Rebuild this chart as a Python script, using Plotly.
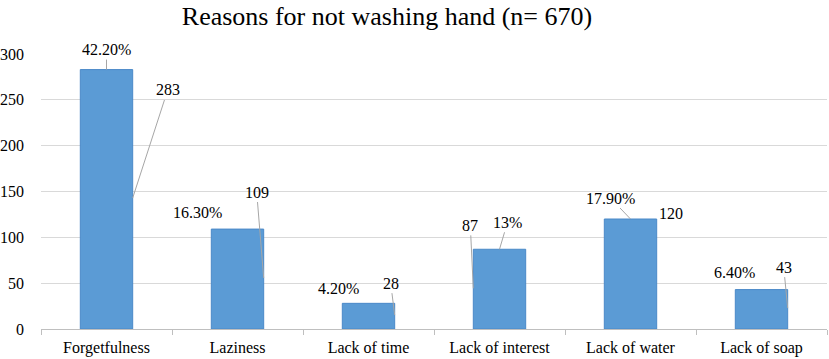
import plotly.graph_objects as go

categories = ["Forgetfulness", "Laziness", "Lack of time", "Lack of interest", "Lack of water", "Lack of soap"]
counts = [283, 109, 28, 87, 120, 43]
percent_labels = ["42.20%", "16.30%", "4.20%", "13%", "17.90%", "6.40%"]
y_ticks = [0, 50, 100, 150, 200, 250, 300]

FONT = "Liberation Serif"
LEADER = "#A6A6A6"

fig = go.Figure()
fig.add_trace(go.Bar(
    x=categories, y=counts,
    marker=dict(color="#5B9BD5", line=dict(color="#4A89C8", width=1)),
    width=0.4,
))

pct_place = [
    dict(dx=0.0, yv=lambda v: v, arrow=True, ax=0, ay=-20),
    dict(dx=0.0, yv=lambda v: v, arrow=False, xs=-40, ys=17),
    dict(dx=0.0, yv=lambda v: v, arrow=False, xs=-30, ys=15),
    dict(dx=0.0, yv=lambda v: v, arrow=True, ax=8, ay=-27),
    dict(dx=0.0, yv=lambda v: v, arrow=True, ax=-20, ay=-21),
    dict(dx=0.0, yv=lambda v: v, arrow=False, xs=-27, ys=17),
]
val_place = [
    dict(dx=0.2, yv=lambda v: v * 0.505, arrow=True, ax=35, ay=-108),
    dict(dx=0.2, yv=lambda v: v * 0.51, arrow=True, ax=-7, ay=-86),
    dict(dx=0.2, yv=lambda v: v * 0.54, arrow=True, ax=-4, ay=-32),
    dict(dx=-0.2, yv=lambda v: v * 0.51, arrow=True, ax=-3, ay=-63),
    dict(dx=0.0, yv=lambda v: v, arrow=False, xs=40, ys=6),
    dict(dx=0.2, yv=lambda v: v * 0.53, arrow=True, ax=-4, ay=-41),
]

annotations = []
for i, (v, p) in enumerate(zip(counts, percent_labels)):
    for text, pl in ((p, pct_place[i]), (str(v), val_place[i])):
        a = dict(x=i + pl["dx"], y=pl["yv"](v), xref="x", yref="y", text=text,
                 font=dict(family=FONT, size=16, color="black"))
        if pl["arrow"]:
            a.update(showarrow=True, arrowhead=0, arrowwidth=1, arrowcolor=LEADER,
                     ax=pl["ax"], ay=pl["ay"], standoff=0)
        else:
            a.update(showarrow=False, xshift=pl["xs"], yshift=pl["ys"])
        annotations.append(a)

fig.update_layout(
    width=829, height=359,
    margin=dict(l=41, r=2, t=54, b=30),
    paper_bgcolor="white", plot_bgcolor="white",
    showlegend=False,
    font=dict(family=FONT, size=16, color="black"),
    title=dict(text="Reasons for not washing hand (n= 670)", x=387 / 829, xanchor="center",
               xref="container", y=1 - 16 / 359, yanchor="middle", yref="container",
               font=dict(family=FONT, size=26, color="black")),
    annotations=annotations,
    bargap=0.6,
)
fig.update_xaxes(
    type="category", showline=True, linecolor="#BFBFBF", linewidth=1,
    ticks="outside", tickson="boundaries", ticklen=5, tickcolor="#BFBFBF",
    ticklabelstandoff=4, automargin=False,
    showgrid=False, tickfont=dict(family=FONT, size=16, color="black"),
)
fig.update_yaxes(
    range=[0, 300], tickvals=y_ticks, showgrid=True, gridcolor="#D9D9D9", gridwidth=1,
    zeroline=False, showline=False, ticks="", ticklabelstandoff=16, automargin=False,
    tickfont=dict(family=FONT, size=16, color="black"),
)
fig.write_html("out.html", config={"displayModeBar": False},
               post_script="document.body.style.margin='0';document.body.style.padding='0';")
